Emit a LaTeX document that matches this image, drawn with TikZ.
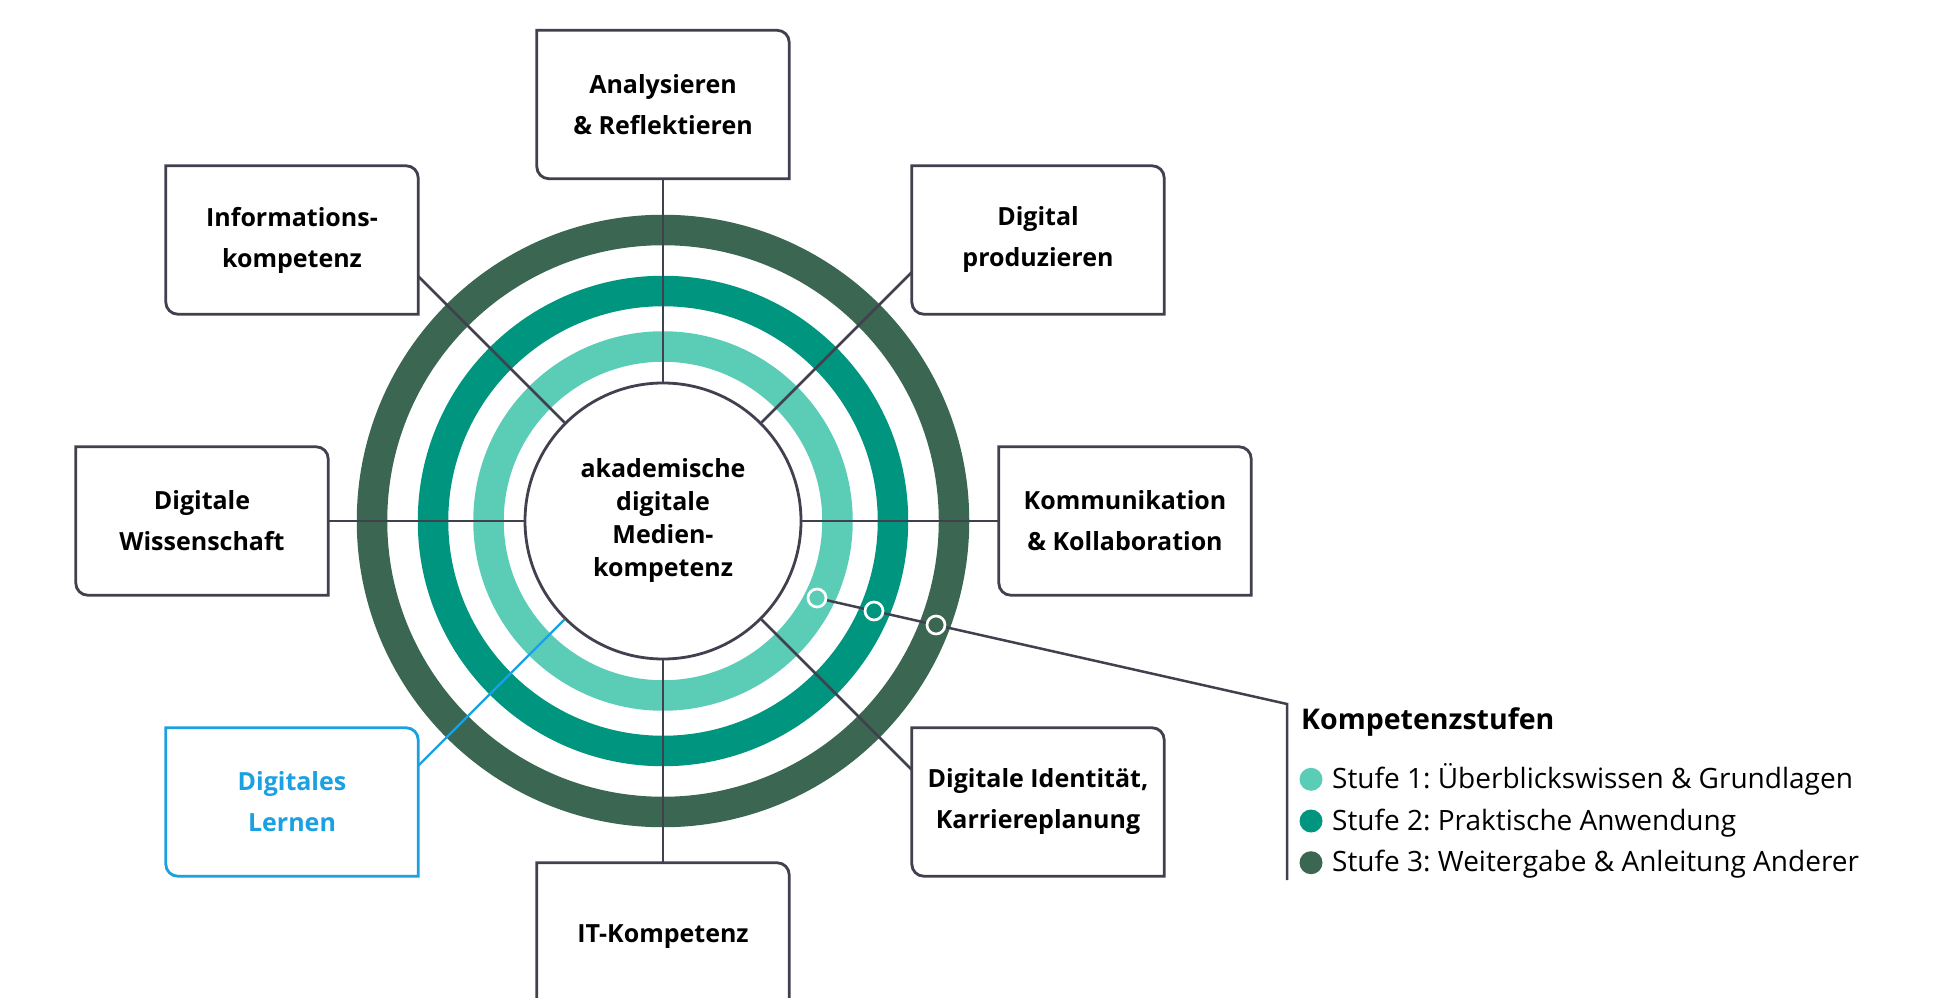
\documentclass[tikz,border=0pt]{standalone}
\usepackage{fontspec}
\setmainfont{Open Sans}
\frenchspacing
\usetikzlibrary{calc}
\definecolor{stufeone}{RGB}{91,205,182}
\definecolor{stufetwo}{RGB}{0,149,127}
\definecolor{stufethree}{RGB}{59,102,82}
\definecolor{linegray}{RGB}{64,64,79}
\definecolor{lernblue}{RGB}{27,160,225}
\tikzstyle{ring}=[line width=30.5pt]
\tikzstyle{spoke}=[linegray,line width=2.6pt]
\tikzstyle{legline}=[linegray,line width=2.5pt]
\tikzstyle{core}=[circle,draw=linegray,line width=2.8pt,fill=white,minimum size=276pt,inner sep=0pt,align=center,font=\fontsize{25}{33}\selectfont\bfseries]
\tikzstyle{kbox}=[rectangle,fill=white,minimum width=252pt,minimum height=148pt,inner sep=0pt,align=center,font=\fontsize{25}{41}\selectfont\bfseries]
\tikzstyle{marker}=[circle,draw=white,line width=2.7pt,minimum size=18pt,inner sep=0pt]
\tikzstyle{legenddot}=[circle,minimum size=23pt,inner sep=0pt]
\tikzstyle{legendtext}=[anchor=base west,inner sep=0pt,font=\fontsize{28}{41}\selectfont]
\newcommand{\drawrings}{
  \foreach \r/\col in {291/stufethree,230/stufetwo,174.5/stufeone} {
    \draw[ring,\col] (c) circle[radius=\r];
  }
}
\newcommand{\drawkbox}[2][linegray]{
  \draw[#1,line width=2.8pt] (#2.north west) -- ([xshift=-12pt]#2.north east)
    arc[start angle=90,end angle=0,radius=12pt] -- (#2.south east)
    -- ([xshift=12pt]#2.south west) arc[start angle=270,end angle=180,radius=12pt] -- cycle;
}
\newcommand{\drawlegend}{
  \node[anchor=base west,inner sep=0pt,font=\fontsize{28.5}{34}\selectfont\bfseries] (legtitle) at (1301,268) {Kompetenzstufen};
  \foreach \i/\col/\txt in {1/stufeone/Überblickswissen \& Grundlagen,2/stufetwo/Praktische Anwendung,3/stufethree/Weitergabe \& Anleitung Anderer} {
    \pgfmathsetmacro{\y}{217.7-41.7*(\i-1)}
    \node[legenddot,fill=\col] (dot\i) at (1311,\y) {};
    \node[legendtext] (stufe\i) at (1332,\y-9) {Stufe \i: \txt};
  }
}

\begin{document}
\begin{tikzpicture}[x=1pt,y=1pt]
  \useasboundingbox (0,0) rectangle (1934,997);
  \coordinate (c) at (663,476);
  \drawrings
  \node[core] (core) at (c) {akademische\\digitale\\Medien-\\kompetenz};
  \foreach \a in {90,135,45,180,0,315,270}
    \draw[spoke] (core.\a) -- ($(core.center)+(\a:360)$);
  \draw[spoke,lernblue,line width=2.2pt] (core.225) -- ($(core.center)+(225:360)$);
  \node[kbox] (anal) at (663,892.5) {Analysieren\\\& Reflektieren};
  \node[kbox] (info) at (292,757) {Informations-\\kompetenz};
  \node[kbox] (prod) at (1038,757) {Digital\\produzieren};
  \node[kbox] (wiss) at (202,476) {Digitale\\Wissenschaft};
  \node[kbox] (komm) at (1125,476) {Kommunikation\\\& Kollaboration};
  \node[kbox,text=lernblue] (lern) at (292,195) {Digitales\\Lernen};
  \node[kbox] (ident) at (1038,195) {Digitale Identität,\\Karriereplanung};
  \node[kbox] (itk) at (663,60) {IT-Kompetenz};
  \foreach \n in {anal,info,prod,wiss,komm,ident,itk} {\drawkbox{\n}}
  \drawkbox[lernblue]{lern}
  \node[marker,fill=stufeone] (mone) at (817,399) {};
  \node[marker,fill=stufetwo] (mtwo) at (874,386) {};
  \node[marker,fill=stufethree] (mthree) at (936,372) {};
  \coordinate (knee) at (1287,293);
  \coordinate (legendend) at (1287,117);
  \draw[legline] (mone) -- (mtwo) -- (mthree) -- (knee) -- (legendend); %legend
  \drawlegend
\end{tikzpicture}
\end{document}
